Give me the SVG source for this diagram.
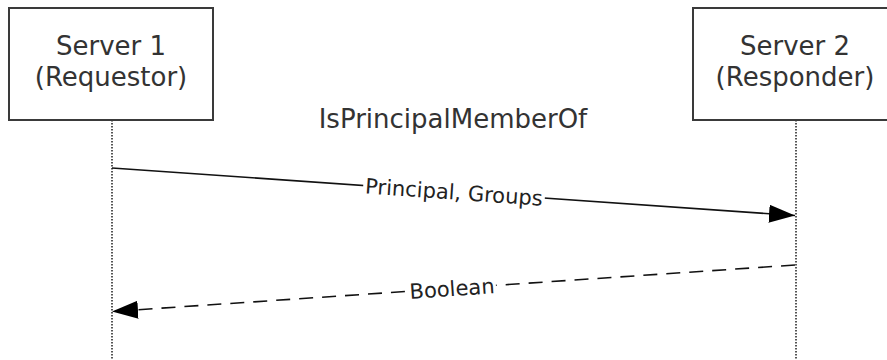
<svg xmlns="http://www.w3.org/2000/svg" width="887" height="360" viewBox="0 0 887 360">
<style>
.box{fill:#fff;stroke:#3a3a3a;stroke-width:2}
.t{font-family:"DejaVu Sans",Verdana,sans-serif;font-size:26px;fill:#333;text-anchor:middle}
.lbl{font-family:"DejaVu Sans",Verdana,sans-serif;font-size:21px;fill:#222;text-anchor:middle}
.life{stroke:#555;stroke-width:2;stroke-dasharray:1.5 1.5;fill:none}
.msg{stroke:#111;stroke-width:1.6;fill:none}
.dash{stroke-dasharray:14 9}
.bg{fill:#fff}
</style>
<defs>
<marker id="ah" viewBox="0 0 26 18" refX="26" refY="9" markerWidth="26" markerHeight="18" markerUnits="userSpaceOnUse" orient="auto">
<path d="M0,0 L26,9 L0,18 Z" fill="#000"/>
</marker>
</defs>
<rect width="887" height="360" fill="#fff"/>
<g id="lifelines">
<line class="life" x1="112" y1="120" x2="112" y2="360"/>
<line class="life" x1="796" y1="120" x2="796" y2="360"/>
</g>
<g id="server1">
<rect class="box" x="9" y="8" width="204" height="112"/>
<text class="t" x="111" y="55">Server 1</text>
<text class="t" x="111" y="86">(Requestor)</text>
</g>
<g id="server2">
<rect class="box" x="693" y="8" width="206" height="112"/>
<text class="t" x="795" y="55">Server 2</text>
<text class="t" x="795" y="86">(Responder)</text>
</g>
<g id="title">
<text class="t" x="453" y="128">IsPrincipalMemberOf</text>
</g>
<g id="connectors">
<line class="msg" x1="112" y1="168" x2="795" y2="215.5" marker-end="url(#ah)"/>
<line class="msg dash" x1="795" y1="265" x2="112" y2="311.5" marker-end="url(#ah)"/>
<g transform="translate(454,192) rotate(3.98)">
<rect class="bg" x="-91" y="-12" width="182" height="22"/>
<text class="lbl" x="0" y="7.5">Principal, Groups</text>
</g>
<g transform="translate(452,288.6) rotate(-3.9)">
<rect class="bg" x="-44" y="-12" width="88" height="22"/>
<text class="lbl" x="0" y="7.5">Boolean</text>
</g>
</g>
</svg>
